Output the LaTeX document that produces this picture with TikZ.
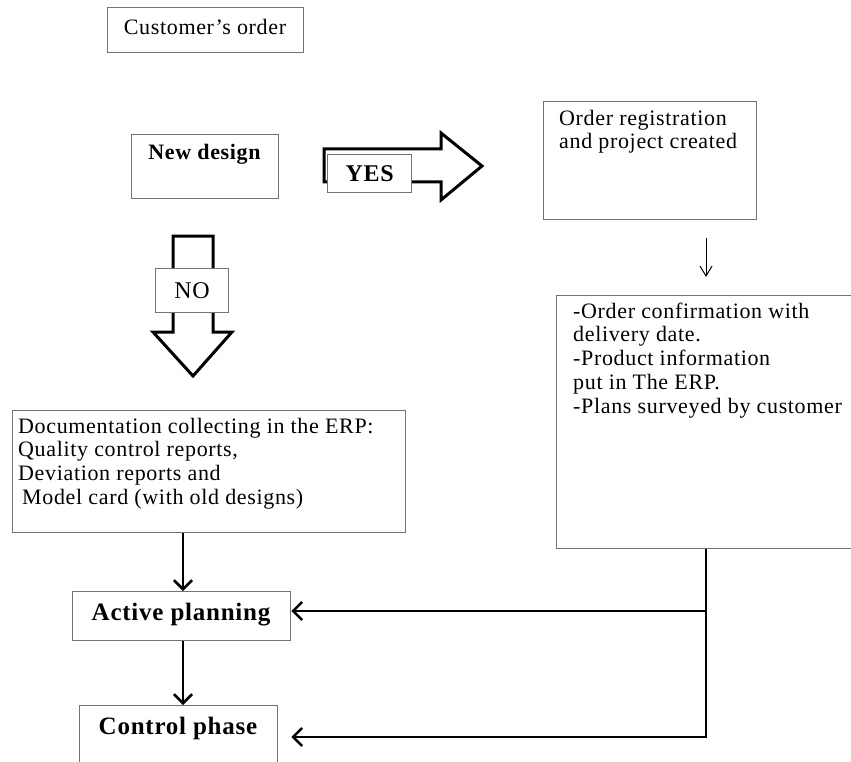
\documentclass[tikz,border=0pt]{standalone}
\usepackage{fontspec}
\setmainfont{Liberation Serif}[LetterSpace=3]
\usetikzlibrary{arrows.meta}
\tikzset{
  box/.style={draw=black!55, line width=1.3pt, fill=white, inner sep=0pt, anchor=north west},
  txt/.style={inner sep=0pt, font=\fontsize{22}{23.75}\selectfont},
  boldtxt/.style={inner sep=0pt, font=\fontsize{25}{27}\selectfont\bfseries, anchor=base},
  blockarrow/.style={draw=black, line width=3pt, fill=white, line join=miter},
  conn/.style={line width=2.6pt, -{Straight Barb[length=9pt,width=18pt]}},
  thinconn/.style={line width=1pt, -{Straight Barb[length=10pt,width=12pt]}}
}
\begin{document}
\begin{tikzpicture}[x=1pt,y=-1pt]
\useasboundingbox (0,0) rectangle (851,762);
\clip (0,0) rectangle (851,762);
\fill[white] (0,0) rectangle (851,762);

% boxes
\node[box, minimum width=196, minimum height=45] (cust) at (107,7) {};
\node[box, minimum width=147, minimum height=64] (newd) at (131,134) {};
\node[box, minimum width=213, minimum height=118] (reg) at (543,101) {};
\node[box, minimum width=320, minimum height=253] (conf) at (556,295) {};
\node[box, minimum width=393, minimum height=122] (doc) at (12,410) {};
\node[box, minimum width=218, minimum height=49] (act) at (72,591) {};
\node[box, minimum width=198, minimum height=80] (ctrl) at (79,705) {};

% texts
\node[txt, anchor=base] (custtxt) at (205,35) {Customer’s order};
\node[boldtxt, font=\fontsize{22}{24}\selectfont\bfseries] (newdtxt) at (204.5,160) {New design};
\node[txt, anchor=north west] (regtxt) at (559,108.4)
  {\parbox[t]{200pt}{\raggedright\strut Order registration\\and project created}};
\node[txt, anchor=north west] (conftxt) at (573,301.4)
  {\parbox[t]{300pt}{\raggedright\strut -Order confirmation with\\delivery date.\\-Product information\\put in The ERP.\\-Plans surveyed by customer}};
\node[txt, anchor=north west] (doctxt) at (18,416.4)
  {\parbox[t]{390pt}{\raggedright\strut Documentation collecting in the ERP:\\Quality control reports,\\Deviation reports and\\\hspace*{4pt}Model card (with old designs)}};
\node[boldtxt] (acttxt) at (181,620) {Active planning};
\node[boldtxt] (ctrltxt) at (178,734) {Control phase};

% YES block arrow
\draw[blockarrow] (324,149) -- (441,149) -- (441,133) -- (482,166) -- (441,200) -- (441,182) -- (324,182) -- cycle;
\node[box, minimum width=84, minimum height=38, font=\fontsize{24}{26}\selectfont\bfseries] (yes) at (327,154) {YES};

% NO block arrow
\draw[blockarrow] (173,236) -- (213,236) -- (213,332) -- (232,332) -- (193,376) -- (153,332) -- (173,332) -- cycle;
\node[box, minimum width=73, minimum height=44, font=\fontsize{24}{26}\selectfont] (no) at (155,268) {NO};

% connectors
\coordinate (xl) at (183,0);
\coordinate (xr) at (706,0);
\coordinate (j1) at (706,611);
\coordinate (j2) at (706,737);
\draw[thinconn, shorten <=18pt, shorten >=18pt] (reg.south -| xr) -- (conf.north -| xr);
\draw[conn] (doc.south -| xl) -- (act.north -| xl);
\draw[conn] (act.south -| xl) -- (ctrl.north -| xl);
\draw[conn, line join=miter, shorten >=13pt] (conf.south -| xr) -- (j2) -- (j2 -| ctrl.east);
\draw[conn] (j1) -- (j1 -| act.east);
\end{tikzpicture}
\end{document}
